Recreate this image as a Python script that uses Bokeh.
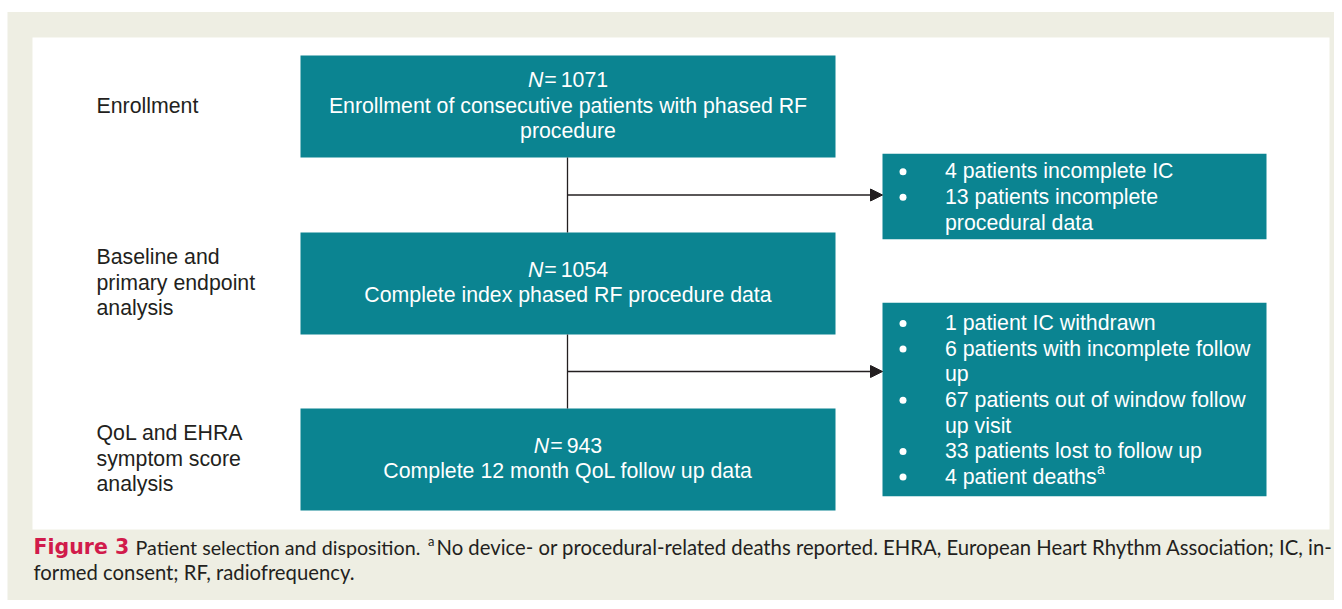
from bokeh.plotting import figure
from bokeh.models import Range1d, Arrow, NormalHead
from bokeh.core.properties import value
from bokeh.embed import file_html
from bokeh.resources import INLINE

# ---------------- data ----------------
stage_labels = [["Enrollment"],
                ["Baseline and", "primary endpoint", "analysis"],
                ["QoL and EHRA", "symptom score", "analysis"]]
stage_n = [1071, 1054, 943]
stage_text = [["Enrollment of consecutive patients with phased RF", "procedure"],
              ["Complete index phased RF procedure data"],
              ["Complete 12 month QoL follow up data"]]
excluded_1 = [["4 patients incomplete IC"],
              ["13 patients incomplete", "procedural data"]]
excluded_2 = [["1 patient IC withdrawn"],
              ["6 patients with incomplete follow", "up"],
              ["67 patients out of window follow", "up visit"],
              ["33 patients lost to follow up"],
              ["4 patient deaths"]]
footnote_mark = "a"
caption_label = "Figure 3"
caption_line1a = "Patient selection and disposition."
caption_line1b = ("No device- or procedural-related deaths reported. EHRA, "
                  "European Heart Rhythm Association; IC, in-")
caption_line2 = "formed consent; RF, radiofrequency."

# ---------------- style / layout ----------------
TEAL = "#0B8491"
BEIGE = "#EEEEE3"
INK = "#231F20"
CRIMSON = "#D11B4B"
SANS = "Liberation Sans"
CAP_FONT = "Lato"
FS = 21.3          # px, flowchart text
CFS = 20.3         # px, caption text
LH = 25.6          # px, line height
TXT_SHIFT = 0.33   # empirical baseline correction (fraction of font size)

# Arial/Liberation advance widths (em) for the few glyph runs we measure
ARIAL_W = {"0": .556, "1": .556, "2": .556, "3": .556, "4": .556, "5": .556,
           "6": .556, "7": .556, "8": .556, "9": .556, " ": .278, "p": .556,
           "a": .556, "t": .278, "i": .222, "e": .556, "n": .556, "d": .556,
           "h": .556, "s": .5, "=": .584, "N": .722}


def text_w(s, fs=FS):
    return sum(ARIAL_W.get(c, .556) for c in s) * fs


def base(cap_center, fs=FS):
    return cap_center + 0.358 * fs - TXT_SHIFT * fs


main_x0, main_x1 = 300, 835
main_tops = [55, 232, 408]
main_h = 102
side_x0, side_x1 = 882, 1266
side_boxes = [(153.3, 238.7), (302.3, 495.7)]
label_x = 96
bullet_x = 902.5
side_text_x = 944.5
conn_x = 567

p = figure(width=1334, height=600, x_range=Range1d(0, 1334), y_range=Range1d(600, 0),
           output_backend="svg", toolbar_location=None, min_border=0,
           x_axis_location=None, y_axis_location=None)
p.grid.visible = False
p.outline_line_color = None
p.background_fill_color = "white"
p.border_fill_color = "white"

# panels
p.quad(left=[7], right=[1400], top=[11.5], bottom=[700], fill_color=BEIGE, line_color=None)
p.quad(left=[32], right=[1329], top=[37], bottom=[529], fill_color="white", line_color=None)

# main boxes
p.quad(left=[main_x0] * 3, right=[main_x1] * 3, top=main_tops,
       bottom=[t + main_h for t in main_tops], fill_color=TEAL, line_color=None)
# side boxes
p.quad(left=[side_x0] * 2, right=[side_x1] * 2, top=[b[0] for b in side_boxes],
       bottom=[b[1] for b in side_boxes], fill_color=TEAL, line_color=None)

# connectors
bottoms = [t + main_h for t in main_tops]
p.segment(x0=[conn_x] * 2, y0=bottoms[:2], x1=[conn_x] * 2, y1=main_tops[1:],
          line_color=INK, line_width=1.3)
for i in range(2):
    ya = (bottoms[i] + main_tops[i + 1]) / 2
    p.add_layout(Arrow(end=NormalHead(size=12, fill_color=INK, line_color=INK, line_width=1),
                       x_start=conn_x, y_start=ya, x_end=side_x0, y_end=ya,
                       line_color=INK, line_width=1.3))

# main box texts
cx = (main_x0 + main_x1) / 2
n_x, n_y, eq_x, num_x, num_s = [], [], [], [], []
body_x, body_y, body_s = [], [], []
lab_x, lab_y, lab_s = [], [], []
for i, top in enumerate(main_tops):
    lines = 1 + len(stage_text[i])
    center = top + main_h / 2 - 1.5
    caps = [center + (j - (lines - 1) / 2) * LH for j in range(lines)]
    num = str(stage_n[i])
    wN, wEq, wNum = text_w("N"), text_w("="), text_w(num)
    g1, g2 = 1.0, 4.0
    total = wN + g1 + wEq + g2 + wNum
    x0 = cx - total / 2
    n_x.append(x0)
    n_y.append(base(caps[0]))
    eq_x.append(x0 + wN + g1)
    num_x.append(x0 + wN + g1 + wEq + g2)
    num_s.append(num)
    for j, t in enumerate(stage_text[i]):
        body_x.append(cx)
        body_y.append(base(caps[j + 1]))
        body_s.append(t)
    # stage labels on the left
    nl = len(stage_labels[i])
    for j, t in enumerate(stage_labels[i]):
        lab_x.append(label_x)
        lab_y.append(base(center + (j - (nl - 1) / 2) * LH))
        lab_s.append(t)

common = dict(text_font=value(SANS), text_font_size=value(f"{FS}px"), text_baseline="alphabetic")
p.text(x=n_x, y=n_y, text=["N"] * 3, text_color="white", text_align="left",
       text_font_style="italic", **common)
p.text(x=eq_x, y=n_y, text=["="] * 3, text_color="white", text_align="left", **common)
p.text(x=num_x, y=n_y, text=num_s, text_color="white", text_align="left", **common)
p.text(x=body_x, y=body_y, text=body_s, text_color="white", text_align="center", **common)
p.text(x=lab_x, y=lab_y, text=lab_s, text_color=INK, text_align="left", **common)

# side box texts
sx, sy, ss, bx, by = [], [], [], [], []
sup_x, sup_y = [], []
for (top, bot), items in zip(side_boxes, [excluded_1, excluded_2]):
    flat = []
    for item in items:
        for j, ln in enumerate(item):
            flat.append((ln, j == 0))
    n = len(flat)
    center = (top + bot) / 2
    last_cap = None
    for k, (ln, first) in enumerate(flat):
        cap_c = center + (k - (n - 1) / 2) * LH
        sx.append(side_text_x)
        sy.append(base(cap_c))
        ss.append(ln)
        last_cap = cap_c
        if first:
            bx.append(bullet_x)
            by.append(cap_c + 0.8)
    if items is excluded_2:
        sup_x.append(side_text_x + text_w(items[-1][-1]) + 0.5)
        sup_y.append(base(last_cap - 7.5, 14))

p.text(x=sx, y=sy, text=ss, text_color="white", text_align="left", **common)
p.scatter(x=bx, y=by, size=7, marker="circle", fill_color="white", line_color=None)
p.text(x=sup_x, y=sup_y, text=[footnote_mark] * len(sup_x), text_color="white",
       text_align="left", text_baseline="alphabetic", text_font=value(SANS),
       text_font_size=value("14px"))

# caption
cap_common = dict(text_baseline="alphabetic", text_align="left")
p.text(x=[33], y=[546.5], text=[caption_label], text_color=CRIMSON,
       text_font=value("DejaVu Sans"), text_font_style="bold",
       text_font_size=value("20.5px"), **cap_common)
p.text(x=[135], y=[546.5], text=[caption_line1a], text_color=INK,
       text_font=value(CAP_FONT), text_font_size=value("19.7px"), **cap_common)
p.text(x=[436, 33], y=[546.5, 571.5],
       text=[caption_line1b, caption_line2], text_color=INK,
       text_font=value(CAP_FONT), text_font_size=value(f"{CFS}px"), **cap_common)
p.text(x=[427.5], y=[540.5], text=[footnote_mark], text_color=INK,
       text_font=value(CAP_FONT), text_font_size=value("13px"), **cap_common)

open("out.html", "w").write(file_html(p, INLINE))
